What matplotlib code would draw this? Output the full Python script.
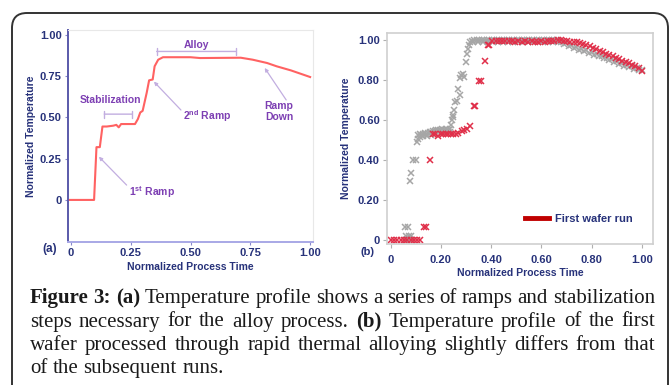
import matplotlib
matplotlib.use("Agg")
import matplotlib.pyplot as plt
from matplotlib.patches import FancyBboxPatch
from matplotlib.transforms import IdentityTransform
from matplotlib.lines import Line2D

# ---- panel (a): temperature profile ----
time_a = [-0.010, 0.097, 0.107, 0.121, 0.132, 0.150, 0.177, 0.190, 0.200, 0.210,
          0.268, 0.280, 0.290, 0.300, 0.317, 0.327, 0.342, 0.350, 0.365, 0.385,
          0.500, 0.540, 0.710, 0.760, 0.820, 0.860, 0.920, 1.000]
temp_a = [0.0, 0.0, 0.32, 0.32, 0.445, 0.445, 0.45, 0.455, 0.44, 0.46,
          0.46, 0.49, 0.53, 0.54, 0.65, 0.725, 0.73, 0.81, 0.85, 0.865,
          0.865, 0.86, 0.862, 0.85, 0.83, 0.81, 0.785, 0.745]

# ---- panel (b): first wafer vs subsequent runs ----
first_t = [0.000, 0.013, 0.026, 0.040, 0.053, 0.066, 0.080, 0.093, 0.106, 0.117,
           0.133, 0.142, 0.157,
           0.167, 0.178, 0.190, 0.200, 0.210, 0.220, 0.230, 0.240, 0.250, 0.260,
           0.270, 0.283, 0.293, 0.303, 0.315,
           0.330, 0.337, 0.352, 0.360, 0.375, 0.387, 0.393,
           0.405, 0.418, 0.431, 0.444, 0.457, 0.470, 0.483, 0.496, 0.509, 0.522,
           0.535, 0.548, 0.561, 0.574, 0.587, 0.600, 0.613, 0.626, 0.639, 0.652,
           0.665, 0.678, 0.690, 0.703, 0.716, 0.729, 0.742, 0.755, 0.768, 0.780,
           0.793, 0.806, 0.819, 0.832, 0.845, 0.858, 0.871, 0.884, 0.897, 0.910,
           0.923, 0.936, 0.949, 0.962, 0.975, 0.988, 1.000]
first_v = [0.0, 0.0, 0.0, 0.0, 0.0, 0.0, 0.0, 0.0, 0.0, 0.0,
           0.065, 0.065, 0.40,
           0.53, 0.53, 0.52, 0.53, 0.53, 0.53, 0.53, 0.53, 0.53, 0.53,
           0.535, 0.545, 0.55, 0.555, 0.57,
           0.67, 0.67, 0.795, 0.795, 0.895, 0.975, 0.975,
           0.995, 0.995, 0.995, 0.995, 0.995, 0.995, 0.995, 0.99, 0.995, 0.99,
           0.995, 0.99, 0.995, 0.99, 0.99, 0.995, 0.99, 0.995, 0.995, 0.995,
           1.0, 1.0, 0.995, 0.993, 0.99, 0.99, 0.988, 0.985, 0.982, 0.975,
           0.97, 0.962, 0.955, 0.947, 0.94, 0.932, 0.927, 0.922, 0.912, 0.905,
           0.897, 0.89, 0.883, 0.874, 0.87, 0.862, 0.847]

later_t = [0.055, 0.065, 0.075, 0.085, 0.062, 0.072, 0.082, 0.057, 0.067,
           0.077, 0.080, 0.090, 0.100, 0.104, 0.108, 0.110,
           0.115, 0.122, 0.128, 0.135, 0.142, 0.148, 0.155, 0.162, 0.168, 0.175,
           0.182, 0.190, 0.197, 0.205, 0.212, 0.220, 0.228, 0.235,
           0.118, 0.130, 0.145, 0.160, 0.175, 0.190, 0.205, 0.220, 0.235,
           0.240, 0.243, 0.247, 0.250, 0.253, 0.258, 0.263, 0.270, 0.275, 0.278,
           0.282, 0.287, 0.292, 0.298, 0.305, 0.308, 0.312, 0.316,
           0.322, 0.332, 0.342, 0.352, 0.362, 0.372, 0.382, 0.392, 0.402, 0.412,
           0.422, 0.432, 0.442, 0.452, 0.462, 0.472, 0.482, 0.492, 0.502, 0.512,
           0.522, 0.532, 0.542, 0.552, 0.562, 0.572, 0.582, 0.592, 0.602, 0.612,
           0.622, 0.632, 0.642, 0.652, 0.662, 0.672,
           0.327, 0.347, 0.367, 0.387, 0.407, 0.427, 0.447, 0.467, 0.487, 0.507,
           0.527, 0.547, 0.567, 0.587, 0.607, 0.627, 0.647, 0.667,
           0.680, 0.700, 0.720, 0.740, 0.760, 0.780, 0.800, 0.820, 0.840, 0.860,
           0.880, 0.900, 0.920, 0.940, 0.960, 0.980, 1.000,
           0.690, 0.710, 0.730, 0.750, 0.770, 0.790, 0.810, 0.830, 0.850, 0.870,
           0.890, 0.910, 0.930, 0.950, 0.970, 0.990]
later_v = [0.0, 0.005, 0.005, 0.0, 0.02, 0.02, 0.02, 0.067, 0.067,
           0.295, 0.337, 0.40, 0.40, 0.49, 0.505, 0.525,
           0.53, 0.525, 0.53, 0.535, 0.53, 0.535, 0.54, 0.54, 0.545, 0.545,
           0.55, 0.55, 0.55, 0.555, 0.55, 0.555, 0.55, 0.555,
           0.515, 0.52, 0.52, 0.525, 0.53, 0.54, 0.54, 0.545, 0.54,
           0.575, 0.60, 0.625, 0.615, 0.65, 0.69, 0.695, 0.755, 0.725, 0.81,
           0.825, 0.83, 0.815, 0.89, 0.93, 0.955, 0.975, 0.99,
           0.995, 1.0, 1.0, 1.0, 1.0, 1.0, 1.0, 1.0, 1.0, 1.0,
           1.0, 1.0, 1.0, 1.0, 1.0, 1.0, 1.0, 1.0, 1.0, 1.0,
           1.0, 1.0, 1.0, 1.0, 1.0, 1.0, 1.0, 1.0, 1.0, 1.0,
           1.0, 1.0, 1.0, 1.0, 1.0, 0.995,
           0.99, 0.99, 0.99, 0.99, 0.99, 0.99, 0.99, 0.99, 0.99, 0.99,
           0.99, 0.99, 0.99, 0.99, 0.99, 0.99, 0.99, 0.99,
           0.99, 0.985, 0.975, 0.965, 0.957, 0.948, 0.94, 0.93, 0.922, 0.912,
           0.903, 0.895, 0.885, 0.877, 0.868, 0.86, 0.848,
           0.982, 0.972, 0.962, 0.952, 0.945, 0.935, 0.927, 0.918, 0.908, 0.9,
           0.89, 0.882, 0.872, 0.864, 0.856, 0.85]

ticks_a = [0, 0.25, 0.50, 0.75, 1.00]
tick_labels_a = ["0", "0.25", "0.50", "0.75", "1.00"]
ticks_b = [0, 0.20, 0.40, 0.60, 0.80, 1.00]
tick_labels_b = ["0", "0.20", "0.40", "0.60", "0.80", "1.00"]

caption = [
    [("Figure 3: (a)", "bold"), ("Temperature profile shows a series of ramps and stabilization", "normal")],
    [("steps necessary for the alloy process.", "normal"), ("(b)", "bold"), ("Temperature profile of the first", "normal")],
    [("wafer processed through rapid thermal alloying slightly differs from that", "normal")],
    [("of the subsequent runs.", "normal")],
]

plt.rcParams["font.family"] = ["Liberation Sans", "DejaVu Sans"]
plt.rcParams["font.weight"] = "bold"
plt.rcParams["axes.labelweight"] = "bold"
plt.rcParams["mathtext.fontset"] = "custom"
plt.rcParams["mathtext.rm"] = "Liberation Sans:bold"

navy = "#27327a"
purple = "#7d3fb3"
lilac = "#c2aee0"
W, H = 670, 385

fig = plt.figure(figsize=(6.7, 3.85), dpi=100)
fig.patch.set_facecolor("white")

# rounded frame around the figure box
frame = FancyBboxPatch((12, -20), 656, 392, boxstyle="round,pad=0,rounding_size=15",
                       transform=IdentityTransform(), fill=False, ec="#333333", lw=1.4)
fig.add_artist(frame)

# ---------- (a) ----------
ax1 = fig.add_axes([68 / W, 1 - 242 / H, 245 / W, 212 / H])
ax1.plot(time_a, temp_a, color="#ff6262", lw=1.5)
ax1.set_xlim(-0.012, 1.012)
ax1.set_ylim(-0.255, 1.03)
ax1.set_xticks(ticks_a, tick_labels_a)
ax1.set_yticks(ticks_a, tick_labels_a)
ax1.tick_params(labelsize=8, length=2.5, width=0.8, pad=2, colors="#8888cc")
ax1.tick_params(labelcolor=navy)
ax1.spines["left"].set_color("#5a5aaa")
ax1.spines["left"].set_linewidth(1.4)
ax1.spines["bottom"].set_color("#a8a8e6")
ax1.spines["bottom"].set_linewidth(1.4)
for s in ("top", "right"):
    ax1.spines[s].set_color("#e8e8e8")
    ax1.spines[s].set_linewidth(0.8)
ax1.set_xlabel("Normalized Process Time", fontsize=7.5, color=navy, labelpad=3)
ax1.set_ylabel("Normalized Temperature", fontsize=7.5, color=navy, labelpad=3)

ann = dict(fontsize=7.5, color=purple, ha="center", va="center")
ax1.annotate("", xy=(0.347, 0.90), xytext=(0.70, 0.90),
             arrowprops=dict(arrowstyle="|-|,widthA=0.25,widthB=0.25", color=lilac, lw=1))
ax1.text(0.527, 0.94, "Alloy", **ann)
ax1.annotate("", xy=(0.128, 0.52), xytext=(0.268, 0.52),
             arrowprops=dict(arrowstyle="|-|,widthA=0.25,widthB=0.25", color=lilac, lw=1))
ax1.text(0.167, 0.606, "Stabilization", **ann)
arr = dict(arrowstyle="-|>", color=lilac, lw=0.9, mutation_scale=5, shrinkA=0, shrinkB=0)
ax1.annotate("", xy=(0.117, 0.262), xytext=(0.233, 0.09), arrowprops=arr)
ax1.text(0.34, 0.05, r"1$^{\mathrm{st}}$ Ramp", **ann)
ax1.annotate("", xy=(0.347, 0.717), xytext=(0.46, 0.545), arrowprops=arr)
ax1.text(0.57, 0.51, r"2$^{\mathrm{nd}}$ Ramp", **ann)
ax1.annotate("", xy=(0.81, 0.80), xytext=(0.90, 0.606), arrowprops=arr)
ax1.text(0.87, 0.536, "Ramp\nDown", linespacing=1.1, **ann)

fig.text(50 / W, 1 - 249 / H, "(a)", fontsize=8.5, color=navy, ha="center", va="center")

# ---------- (b) ----------
ax2 = fig.add_axes([386.7 / W, 1 - 244 / H, 266.3 / W, 210.7 / H])
ax2.plot(later_t, later_v, ls="none", marker="x", ms=4.5, mew=1.1, color="#a6a6a6")
ax2.plot(first_t, first_v, ls="none", marker="x", ms=4.5, mew=1.1, color="#e0304a")
ax2.set_xlim(-0.016, 1.045)
ax2.set_ylim(-0.02, 1.034)
ax2.set_xticks(ticks_b, tick_labels_b)
ax2.set_yticks(ticks_b, tick_labels_b)
ax2.tick_params(labelsize=8, length=3, width=0.8, colors="#b0b0b0")
ax2.tick_params(axis="x", pad=5, labelcolor=navy)
ax2.tick_params(axis="y", pad=2, labelcolor=navy)
for s in ax2.spines.values():
    s.set_color("#cfcfcf")
    s.set_linewidth(1.2)
ax2.set_xlabel("Normalized Process Time", fontsize=7.5, color=navy, labelpad=2)
ax2.set_ylabel("Normalized Temperature", fontsize=7.5, color=navy, labelpad=5)
ax2.legend(handles=[Line2D([], [], color="#c00000", lw=3.5)], labels=["First wafer run"],
           loc="center right", bbox_to_anchor=(0.96, 0.12), frameon=False,
           prop=dict(size=8, weight="bold"), labelcolor=navy, handlelength=2.2,
           handletextpad=0.5)

fig.text(367 / W, 1 - 252 / H, "(b)", fontsize=8, color=navy, ha="center", va="center")

# ---------- caption, justified ----------
renderer = fig.canvas.get_renderer()
cap_left, cap_right = 30, 655
cap_size = 15
baselines = [303, 326.5, 350, 373]
space = fig.text(0, 0, "a a", fontsize=cap_size, family="Liberation Serif", weight="normal")
nospace = fig.text(0, 0, "aa", fontsize=cap_size, family="Liberation Serif", weight="normal")
space_w = space.get_window_extent(renderer).width - nospace.get_window_extent(renderer).width
space.remove()
nospace.remove()

for i, runs in enumerate(caption):
    words = [(w, wt) for txt, wt in runs for w in txt.split()]
    arts = [fig.text(0, H - baselines[i], w, transform=IdentityTransform(), fontsize=cap_size,
                     weight=wt, family="Liberation Serif", va="baseline", color="#1a1a1a")
            for w, wt in words]
    widths = [a.get_window_extent(renderer).width for a in arts]
    if i < len(caption) - 1:
        gap = (cap_right - cap_left - sum(widths)) / (len(words) - 1)
    else:
        gap = space_w
    x = cap_left
    for a, w in zip(arts, widths):
        a.set_x(x)
        x += w + gap

fig.savefig("out.png", dpi=100)
